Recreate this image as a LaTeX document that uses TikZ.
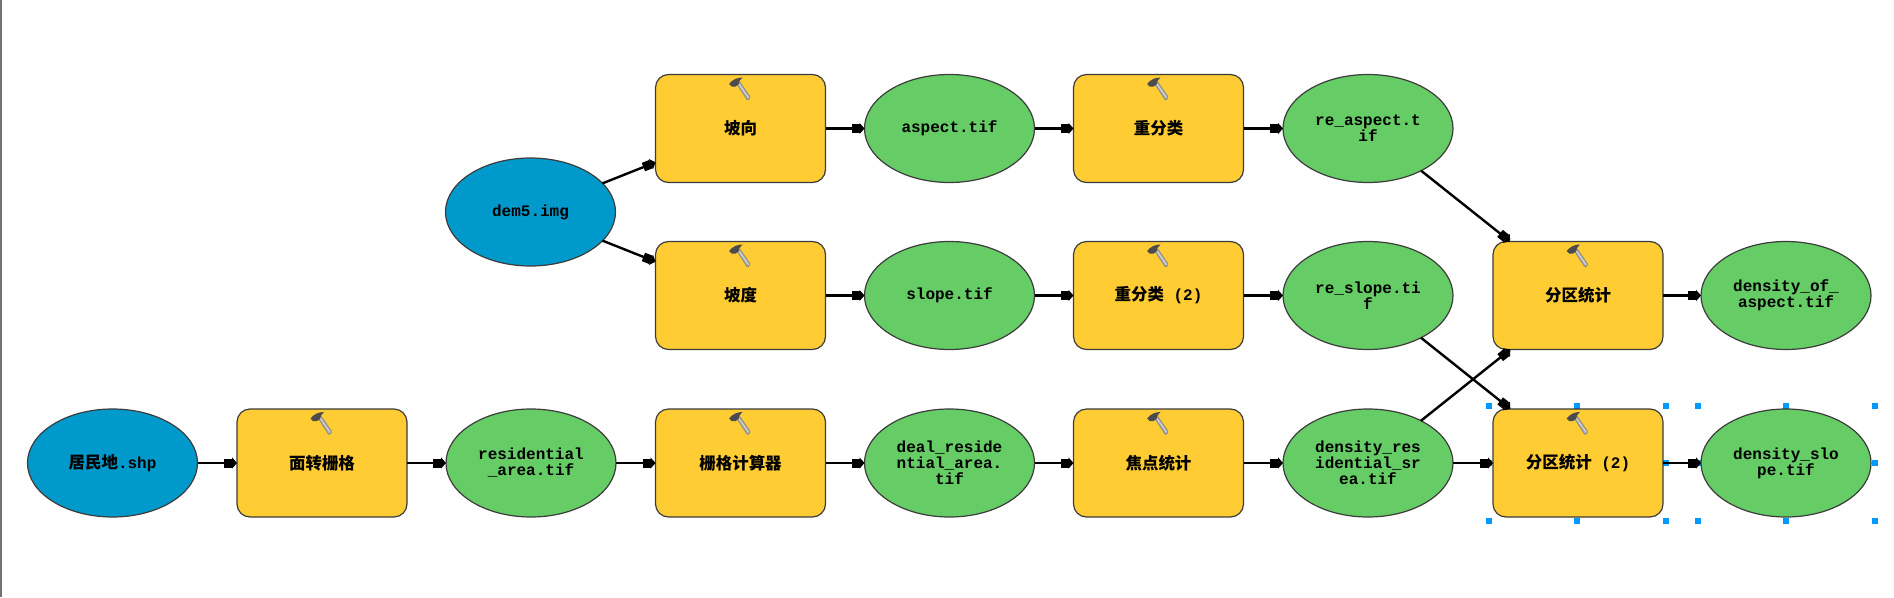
\documentclass[tikz,border=0pt]{standalone}
\usepackage{fontspec}
\setmainfont{Liberation Mono}
\newfontfamily\zhfont{Noto Sans CJK SC}[Scale=1.03]
\newcommand{\zh}[1]{{\zhfont #1}}
\usetikzlibrary{shapes.geometric,arrows.meta}
\definecolor{toolfill}{RGB}{255,204,51}
\definecolor{datafill}{RGB}{102,204,102}
\definecolor{inputfill}{RGB}{0,153,204}
\definecolor{handleblue}{RGB}{0,153,255}
\definecolor{edgegrey}{RGB}{60,60,60}
\tikzset{
  x=1pt,y=-1pt,
  base/.style={draw=edgegrey,line width=1.2pt,inner sep=0pt,outer sep=0pt,align=center,
    font=\fontsize{16}{16}\selectfont\bfseries},
  tool/.style={base,rectangle,rounded corners=13pt,fill=toolfill,minimum width=170pt,minimum height=108pt},
  data/.style={base,ellipse,fill=datafill,minimum width=170pt,minimum height=108pt},
  source/.style={base,ellipse,fill=inputfill,minimum width=170pt,minimum height=108pt},
  link/.style={line width=2.4pt,black,-{Rectangle[length=8pt,width=9pt,sep=0pt]Triangle[length=5pt,width=11pt]}},
  handle/.style={fill=handleblue,minimum size=6pt,inner sep=0pt,outer sep=0pt},
  hammer/.pic={
    \fill[black!35,draw=black!50,line width=.5pt,rounded corners=1pt] (-4,-45) -- (-1,-47) -- (10,-31) -- (7,-28) -- cycle;
    \fill[white!85!black] (-2.2,-44.5) -- (-1.4,-45) -- (8.5,-31) -- (7.7,-30.4) -- cycle;
    \fill[black!70] (-11.5,-44.5) .. controls (-8,-49) and (-3,-51) .. (2,-51) .. controls (-1,-49) and (-1,-47) .. (-2,-44) -- (-5,-42) -- (-9,-42) -- cycle;
  }
}
\begin{document}
\begin{tikzpicture}
\useasboundingbox (0,0) rectangle (1894,597);
\fill[black!55] (0,0) rectangle (1.5,597);
% selection handles
\foreach \hx in {1489,1577,1665.5,1698,1785.7,1874.5}{
  \node[handle] at (\hx,405.7) {};
  \node[handle] at (\hx,520.7) {};
  \node[handle] at (\hx,463) {};
}
% row 1
\node[tool] (podirtool) at (740.5,128.5) {\zh{坡向}};
\node[data] (aspect) at (949.5,128.5) {aspect.tif};
\node[tool] (reclass) at (1158.5,128.5) {\zh{重分类}};
\node[data] (reaspect) at (1368,128.5) {re\_aspect.t\\if};
% dem
\node[source] (dem) at (530.5,212) {dem5.img};
% row 2
\node[tool] (slopetool) at (740.5,295.5) {\zh{坡度}};
\node[data] (slope) at (949.5,295.5) {slope.tif};
\node[tool] (reclasstwo) at (1158.5,295.5) {\zh{重分类} (2)};
\node[data] (reslope) at (1368,295.5) {re\_slope.ti\\f};
\node[tool] (zonal) at (1578,295.5) {\zh{分区统计}};
\node[data] (densityaspect) at (1786,295.5) {density\_of\_\\aspect.tif};
% row 3
\node[source] (resshp) at (112.5,463) {\zh{居民地}.shp};
\node[tool] (torast) at (322,463) {\zh{面转栅格}};
\node[data] (resarea) at (531,463) {residential\\\_area.tif};
\node[tool] (calc) at (740.5,463) {\zh{栅格计算器}};
\node[data] (deal) at (949.5,463) {deal\_reside\\ntial\_area.\\tif};
\node[tool] (focal) at (1158.5,463) {\zh{焦点统计}};
\node[data] (densityres) at (1368,463) {density\_res\\idential\_sr\\ea.tif};
\node[tool] (zonaltwo) at (1578,463) {\zh{分区统计} (2)};
\node[data] (densityslope) at (1786,463) {density\_slo\\pe.tif};
% hammers
\foreach \t in {podirtool,reclass,slopetool,reclasstwo,zonal,torast,calc,focal,zonaltwo}{
  \pic at (\t.center) {hammer};
}
% connectors
\draw[link] (dem) -- (podirtool);
\draw[link] (dem) -- (slopetool);
\draw[link] (podirtool) -- (aspect);
\draw[link] (aspect) -- (reclass);
\draw[link] (reclass) -- (reaspect);
\draw[link] (reaspect) -- (zonal);
\draw[link] (slopetool) -- (slope);
\draw[link] (slope) -- (reclasstwo);
\draw[link] (reclasstwo) -- (reslope);
\draw[link] (reslope) -- (zonaltwo);
\draw[link] (zonal) -- (densityaspect);
\draw[link] (resshp) -- (torast);
\draw[link] (torast) -- (resarea);
\draw[link] (resarea) -- (calc);
\draw[link] (calc) -- (deal);
\draw[link] (deal) -- (focal);
\draw[link] (focal) -- (densityres);
\draw[link] (densityres) -- (zonal);
\draw[link] (densityres) -- (zonaltwo);
\draw[link] (zonaltwo) -- (densityslope);
\end{tikzpicture}
\end{document}
